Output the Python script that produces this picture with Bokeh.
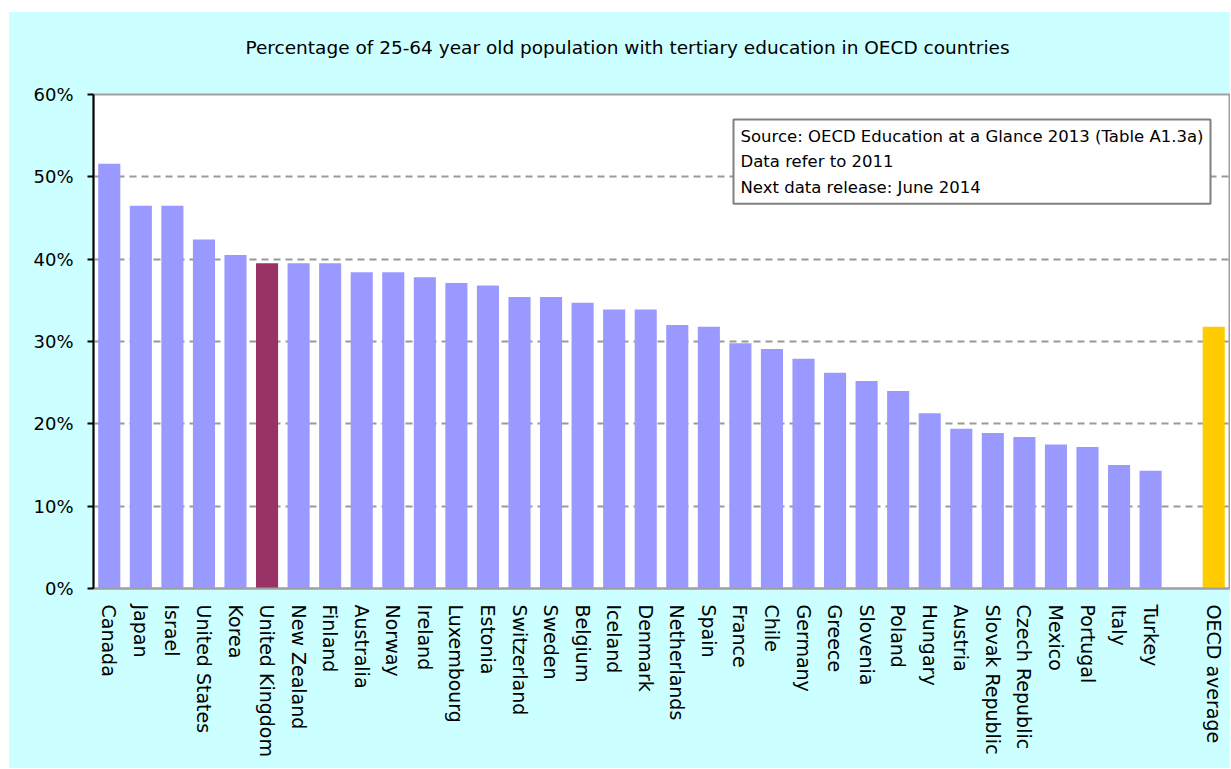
from bokeh.plotting import figure
from bokeh.models import FactorRange, FixedTicker, PrintfTickFormatter, Label, Spacer
from bokeh.layouts import column, row
from bokeh.embed import file_html
from bokeh.resources import INLINE

TITLE = "Percentage of 25-64 year old population with tertiary education in OECD countries"
SOURCE = "Source: OECD Education at a Glance 2013 (Table A1.3a)\nData refer to 2011\nNext data release: June 2014"

countries = ["Canada", "Japan", "Israel", "United States", "Korea", "United Kingdom",
             "New Zealand", "Finland", "Australia", "Norway", "Ireland", "Luxembourg",
             "Estonia", "Switzerland", "Sweden", "Belgium", "Iceland", "Denmark",
             "Netherlands", "Spain", "France", "Chile", "Germany", "Greece", "Slovenia",
             "Poland", "Hungary", "Austria", "Slovak Republic", "Czech Republic",
             "Mexico", "Portugal", "Italy", "Turkey"]
values = [51.6, 46.5, 46.5, 42.4, 40.5, 39.5,
          39.5, 39.5, 38.4, 38.4, 37.8, 37.1,
          36.8, 35.4, 35.4, 34.7, 33.9, 33.9,
          32.0, 31.8, 29.8, 29.1, 27.9, 26.2, 25.2,
          24.0, 21.3, 19.4, 18.9, 18.4,
          17.5, 17.2, 15.0, 14.3]
avg_label = "OECD average"
avg_value = 31.8
gap = " "
y_ticks = [0, 10, 20, 30, 40, 50, 60]

BAR = "#9999ff"
UK = "#993366"
AVG = "#ffcc00"
BG = "#ccffff"
FONT = "DejaVu Sans"
W = 1221

# ---- title strip ----
t = figure(width=W, height=60, x_range=(0, 1), y_range=(0, 1),
           output_backend="svg", toolbar_location=None,
           min_border_left=0, min_border_right=0, min_border_top=0, min_border_bottom=0)
t.axis.visible = False
t.grid.visible = False
t.outline_line_color = None
t.background_fill_color = BG
t.border_fill_color = BG
t.add_layout(Label(x=534, y=25, x_units="screen", y_units="screen", text=TITLE,
                   text_align="center", text_baseline="middle",
                   text_font=FONT, text_font_size="18.5px", text_color="black"))

# ---- main chart ----
factors = countries + [gap, avg_label]

p = figure(width=W, height=696, x_range=FactorRange(factors=factors),
           y_range=(0, 60), output_backend="svg", toolbar_location=None,
           min_border_left=84, min_border_right=1, min_border_top=22, min_border_bottom=180)
p.border_fill_color = BG
p.background_fill_color = "white"
p.outline_line_color = "#a0a0a0"
p.outline_line_width = 2

bar_x = countries + [avg_label]
bar_y = values + [avg_value]
colors = [UK if c == "United Kingdom" else BAR for c in countries] + [AVG]
p.vbar(x=bar_x, top=bar_y, width=0.7, fill_color=colors, line_color=None)

p.xgrid.visible = False
p.ygrid.ticker = FixedTicker(ticks=y_ticks[1:-1])
p.ygrid.grid_line_color = "#999999"
p.ygrid.grid_line_width = 2
p.ygrid.grid_line_dash = "7 5"

p.yaxis.ticker = FixedTicker(ticks=y_ticks)
p.yaxis.formatter = PrintfTickFormatter(format="%d%%")
p.yaxis.axis_line_color = "black"
p.yaxis.axis_line_width = 2
p.yaxis.major_tick_line_color = "black"
p.yaxis.major_tick_line_width = 2
p.yaxis.major_tick_out = 6
p.yaxis.major_tick_in = 0
p.yaxis.minor_tick_line_color = None
p.yaxis.major_label_standoff = 14
p.yaxis.major_label_text_font = FONT
p.yaxis.major_label_text_font_size = "18px"
p.yaxis.major_label_text_color = "black"

p.xaxis.axis_line_color = "#a0a0a0"
p.xaxis.axis_line_width = 2
p.xaxis.major_tick_line_color = None
p.xaxis.minor_tick_line_color = None
p.xaxis.major_label_orientation = "vertical"
p.xaxis.major_label_standoff = 10
p.xaxis.major_label_text_font = FONT
p.xaxis.major_label_text_font_size = "19px"
p.xaxis.major_label_text_color = "black"

src = Label(x=640, y=469, x_units="screen", y_units="screen", text=SOURCE,
            text_align="left", text_baseline="top",
            text_font=FONT, text_font_size="16.5px", text_color="black",
            text_line_height=1.35,
            background_fill_color="white", border_line_color="#808080",
            border_line_width=2, padding=7)
p.add_layout(src)

inner = column(t, p, styles={"background-color": BG})
layout = column(Spacer(height=12, width=W + 9),
                row(Spacer(width=9, height=756), inner))

open("out.html", "w").write(file_html(layout, INLINE))
